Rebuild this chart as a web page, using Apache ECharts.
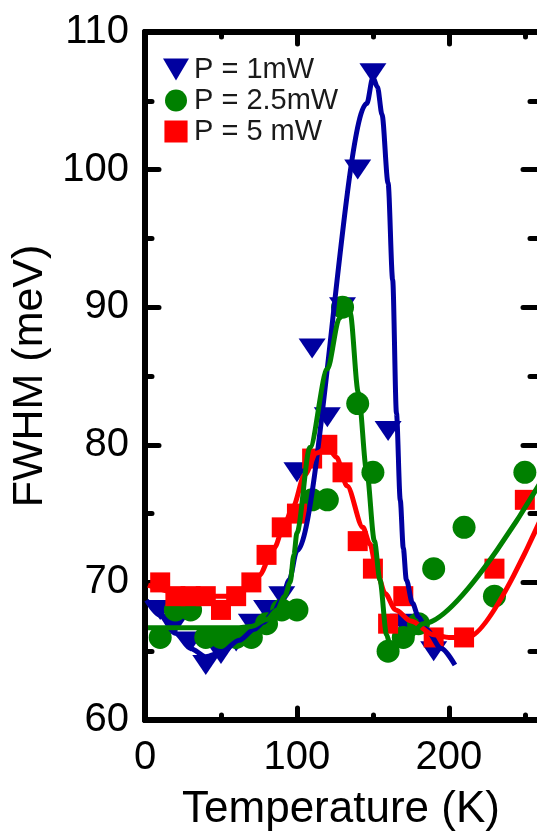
<!DOCTYPE html>
<html>
<head>
<meta charset="utf-8">
<script src="https://cdn.jsdelivr.net/npm/echarts@6/dist/echarts.min.js"></script>
<style>
html,body{margin:0;padding:0;background:#fff;}
#main{width:537px;height:831px;}
</style>
</head>
<body>
<div id="main"></div>
<script>
// measured points
var temps1 = [10,20,30,40,50,60,70,80,90,100,110,120,130,140,150,160,170,190];
var fwhm1  = [68,67,65.7,64,64.8,65.7,67,68,69,78,87,82,90,100,107,81,67,65];
var temps25 = [10,20,30,40,50,60,70,80,90,100,110,120,130,140,150,160,170,180,190,210,230,250];
var fwhm25  = [66,68,68,66,66,66,66,67,68,68,76,76,90,83,78,65,66,67,71,74,69,78];
var temps5 = [10,20,30,40,50,60,70,80,90,100,110,120,130,140,150,160,170,190,210,230,250];
var fwhm5  = [70,69,69,69,68,69,70,72,74,75,79,80,78,73,71,67,69,66,66,71,76];

// fitted curves
var fit1T = [1,10,20,30,40,50,62,72,78,85,90,95,100,146,150,153,156,160,163,165.5,168,170,172,176,180,185,195,204];
var fit1  = [68.7,67.6,66.3,65.2,64.6,64.9,65.8,66.6,67.1,67.9,68.8,70.2,72.3,104.8,106.7,106.0,104.0,99.0,92.0,82.3,76.0,72.5,70.2,68.5,67.5,66.6,65.2,64.0];
var fit25T = [2,60,70,80,87,92,95.5,98,100,108.5,120,128,131,135,140.4,146,151,154.6,159,161,166,172,183,262];
var fit25  = [66.7,66.7,66.8,67.3,68.0,69.0,70.0,72.0,73.6,79.8,85.5,89.2,90.2,89.6,83.8,78.0,73.0,70.2,66.2,65.6,65.4,65.8,67.0,77.6];
var fit5T = [2,20,40,55,65,75,85,92,97.4,105,113,120.4,126,133,143.4,148,153,158,165,175,190,200,212,262];
var fit5  = [69.8,69.3,69.0,69.0,69.5,70.5,72.5,74.3,75.5,77.8,79.4,79.8,79.1,77.0,74.0,72.8,70.6,69.2,68.0,67.2,66.2,66.0,66.0,75.0];

// axis ticks
var majorT = [0,100,200];
var minorT = [50,150,250];

var names = ['P = 1mW','P = 2.5mW','P = 5 mW'];
var BLUE = '#0000a0', GREEN = '#008000', RED = '#ff0000';
var FONT = 'Liberation Sans, Arial, sans-serif';

function pairs(xs, ys){
	var out = [];
	for(var i=0;i<xs.length;i++){ out.push([xs[i], ys[i]]); }
	return out;
}

var myChart = echarts.init(document.getElementById('main'));

var tickStyle = {color:'#000', width:5, cap:'round'};

// one axis per tick length (x: long at 100s, short at 50s)
function xAx(pos, ticks, len, labels){
	return {
		type:'value', min:0, max:258, interval:50, position:pos,
		axisLine:{show:true, onZero:false, lineStyle:{color:'#000', width:6}},
		axisTick:{show:true, inside:true, length:len, customValues:ticks, lineStyle:tickStyle},
		axisLabel:labels ? {fontSize:40, color:'#000', margin:18, fontFamily:FONT, customValues:majorT} : {show:false},
		splitLine:{show:false}
	};
}
function yAx(pos, labels){
	return {
		type:'value', min:60, max:110, interval:10, position:pos,
		axisLine:{show:labels, onZero:false, lineStyle:{color:'#000', width:6}},
		axisTick:{show:true, inside:true, length:14, lineStyle:tickStyle},
		minorTick:{show:true, splitNumber:2, length:7, lineStyle:tickStyle},
		axisLabel:labels ? {fontSize:40, color:'#000', margin:16, fontFamily:FONT} : {show:false},
		splitLine:{show:false}
	};
}

var xb = xAx('bottom', majorT, 12, true);
xb.name = 'Temperature (K)';
xb.nameLocation = 'middle';
xb.nameGap = 68;
xb.nameTextStyle = {fontSize:44, color:'#000', fontFamily:FONT};
var yl = yAx('left', true);
yl.name = 'FWHM (meV)';
yl.nameLocation = 'middle';
yl.nameGap = 86;
yl.nameTextStyle = {fontSize:43, color:'#000', fontFamily:FONT};

option = {
	animation:false,
	backgroundColor:'#fff',
	textStyle:{fontFamily:FONT},
	grid:{left:145, top:32, width:392, height:688, containLabel:false, outerBoundsMode:'none'},
	legend:{
		orient:'vertical',
		left:158, top:50,
		itemWidth:26, itemHeight:22, itemGap:2,
		textStyle:{fontSize:29, lineHeight:29, color:'#1a1a1a', fontFamily:FONT},
		data:[
			{name:names[0], icon:'path://M0,0L26,0L13,22Z'},
			{name:names[1], icon:'circle'},
			{name:names[2], icon:'path://M0,0L20,0L20,19L0,19Z'}
		]
	},
	xAxis:[xb, xAx('bottom', minorT, 5, false), xAx('top', majorT, 12, false), xAx('top', minorT, 5, false)],
	yAxis:[yl, yAx('right', false)],
	series:[
		{name:names[0], type:'scatter', data:pairs(temps1,fwhm1), z:2,
			symbol:'triangle', symbolRotate:180, symbolSize:[27,20],
			itemStyle:{color:BLUE, opacity:1}},
		{name:names[1], type:'scatter', data:pairs(temps25,fwhm25), z:3,
			symbol:'circle', symbolSize:23,
			itemStyle:{color:GREEN, opacity:1}},
		{name:names[2], type:'scatter', data:pairs(temps5,fwhm5), z:4,
			symbol:'rect', symbolSize:20,
			itemStyle:{color:RED, opacity:1}},
		{type:'line', data:pairs(fit1T,fit1), z:5, showSymbol:false, silent:true,
			smooth:0.3, smoothMonotone:'x', lineStyle:{color:BLUE, width:5}},
		{type:'line', data:pairs(fit5T,fit5), z:6, showSymbol:false, silent:true,
			smooth:0.3, smoothMonotone:'x', lineStyle:{color:RED, width:5}},
		{type:'line', data:pairs(fit25T,fit25), z:7, showSymbol:false, silent:true,
			smooth:0.3, smoothMonotone:'x', lineStyle:{color:GREEN, width:5}}
	]
};

myChart.setOption(option);
</script>
</body>
</html>
